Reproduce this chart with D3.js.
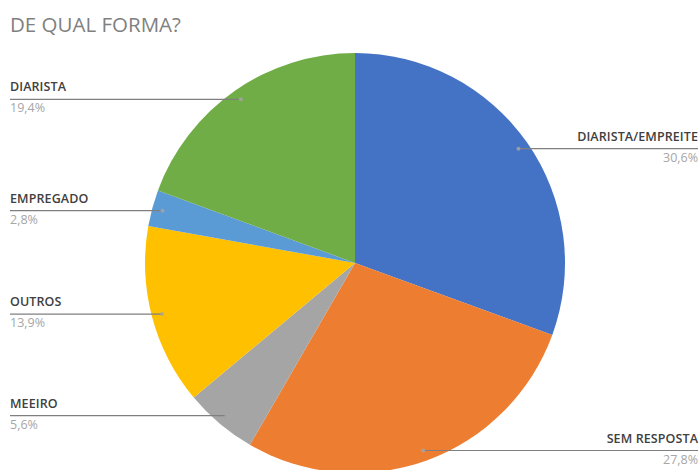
<!DOCTYPE html>
<meta charset="utf-8">
<html>
<head>
  <script src="https://d3js.org/d3.v7.min.js"></script>
  <style>
    body { margin: 0; background: #fff; }
    text { font-family: "Open Sans", "Noto Sans", sans-serif; }
  </style>
</head>
<body>
<script>
  // slice data, clockwise from 12 o'clock
  var categories = ["DIARISTA/EMPREITE", "SEM RESPOSTA", "MEEIRO", "OUTROS", "EMPREGADO", "DIARISTA"];
  var percents = [30.6, 27.8, 5.6, 13.9, 2.8, 19.4];
  var colors = ["#4472C4", "#ED7D31", "#A5A5A5", "#FFC000", "#5B9BD5", "#70AD47"];
  var percentLabels = ["30,6%", "27,8%", "5,6%", "13,9%", "2,8%", "19,4%"];

  var width = 700, height = 470;
  var cx = 355, cy = 263, radius = 210;

  var svg = d3.select("body").append("svg")
      .attr("width", width)
      .attr("height", height);

  // title
  svg.append("text")
      .attr("x", 10)
      .attr("y", 32)
      .style("font-size", "20.5px")
      .style("fill", "#808080")
      .text("DE QUAL FORMA?");

  var data = categories.map(function (c, i) {
    return { name: c, value: percents[i], color: colors[i], label: percentLabels[i] };
  });

  var pie = d3.pie().sort(null).value(function (d) { return d.value; });
  var arc = d3.arc().innerRadius(0).outerRadius(radius);
  var arcs = pie(data);

  var g = svg.append("g").attr("transform", "translate(" + cx + "," + cy + ")");

  g.selectAll("path")
      .data(arcs)
      .enter()
      .append("path")
      .attr("d", arc)
      .style("fill", function (d) { return d.data.color; });

  // leader lines start inside the slice, near the rim
  arcs.forEach(function (d) {
    var mid = (d.startAngle + d.endAngle) / 2;
    var ax = cx + Math.sin(mid) * radius * 0.95;
    var ay = cy - Math.cos(mid) * radius * 0.95;
    var right = mid < Math.PI;
    var xEnd = right ? 698 : 10;

    svg.append("line")
        .attr("x1", ax).attr("y1", ay)
        .attr("x2", xEnd).attr("y2", ay)
        .style("stroke", "#7f7f7f")
        .style("stroke-width", 1.2);

    svg.append("circle")
        .attr("cx", ax).attr("cy", ay)
        .attr("r", 2)
        .style("fill", "#a6a6a6")
        .style("opacity", 0.8);

    svg.append("text")
        .attr("x", xEnd)
        .attr("y", ay - 8)
        .attr("text-anchor", right ? "end" : "start")
        .style("font-size", "12.5px")
        .style("font-weight", "600")
        .style("letter-spacing", "0.1px")
        .style("fill", "#404040")
        .text(d.data.name);

    svg.append("text")
        .attr("x", xEnd)
        .attr("y", ay + 13)
        .attr("text-anchor", right ? "end" : "start")
        .style("font-size", "12.5px")
        .style("fill", "#a6a6a6")
        .text(d.data.label);
  });
</script>
</body>
</html>
